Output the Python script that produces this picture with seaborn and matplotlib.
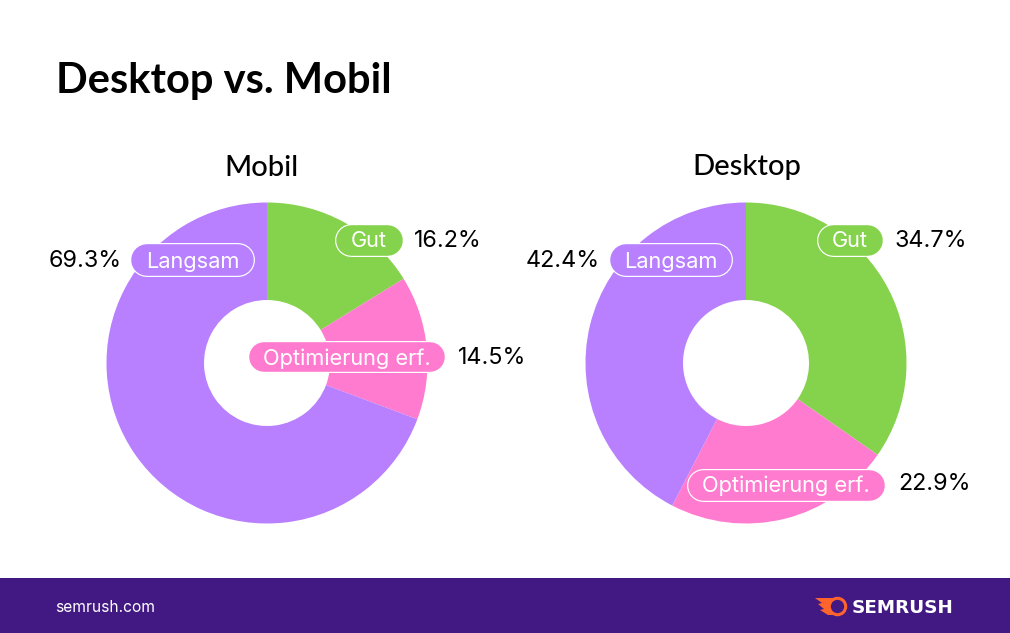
import matplotlib.pyplot as plt
import seaborn as sns
from matplotlib.patches import Circle, Polygon, Rectangle

W, H = 1010, 633

categories = ['Gut', 'Optimierung erf.', 'Langsam']
mobile_values = [16.2, 14.5, 69.3]
desktop_values = [34.7, 22.9, 42.4]
colors = ['#85D24C', '#FF7BCF', '#B87FFF']

# label layout, pixels: pill box (x0, y0, x1, y1), percent text x and y
mobile_labels = [
    ((334, 223, 403, 256), 414, 238.5),
    ((248, 341, 446, 373), 458, 355.5),
    ((130, 243, 255, 277), 48.5, 258.5),
]
desktop_labels = [
    ((816, 223, 883, 256), 894, 238.5),
    ((686, 468, 885, 501), 898, 481.5),
    ((609, 243, 733, 277), 525.5, 258.5),
]

sns.set_theme(style='white', palette=sns.color_palette(colors))
plt.rcParams['font.family'] = ['Inter', 'DejaVu Sans']


def draw_donut(fig, values, cx, cy, r=160.5, hole=63):
    ax = fig.add_axes([(cx - r) / W, 1 - (cy + r) / H, 2 * r / W, 2 * r / H])
    ax.pie(values, colors=sns.color_palette(), startangle=90, counterclock=False, radius=1,
           wedgeprops={'width': 1 - hole / r, 'linewidth': 0})
    ax.set_xlim(-1, 1)
    ax.set_ylim(-1, 1)
    ax.axis('off')


def draw_labels(ax, values, layout):
    for name, val, color, (box, px, py) in zip(categories, values, colors, layout):
        x0, y0, x1, y1 = box
        h = y1 - y0
        ym = (y0 + y1) / 2
        # pill: two thick round-capped lines, 1 px = 0.72 pt
        ax.plot([x0 + h / 2, x1 - h / 2], [ym, ym], color='white', lw=h * 0.72,
                solid_capstyle='round', zorder=3)
        ax.plot([x0 + h / 2, x1 - h / 2], [ym, ym], color=color, lw=(h - 2.4) * 0.72,
                solid_capstyle='round', zorder=3)
        ax.text((x0 + x1) / 2, ym - 0.5, name, color='white', fontsize=15.7,
                ha='center', va='center_baseline', zorder=4)
        ax.text(px, py, f'{val}%', color='black', fontsize=16.8,
                ha='left', va='center_baseline', zorder=4)


fig = plt.figure(figsize=(W / 100, H / 100), dpi=100, facecolor='white')

draw_donut(fig, mobile_values, 267, 363)
draw_donut(fig, desktop_values, 746, 363)

# overlay in pixel coordinates for text and footer
overlay = fig.add_axes([0, 0, 1, 1], facecolor='none')
overlay.set_xlim(0, W)
overlay.set_ylim(H, 0)
overlay.axis('off')

overlay.text(56, 77, 'Desktop vs. Mobil', fontsize=30, fontweight='bold', color='black',
             family=['Lato', 'DejaVu Sans'], ha='left', va='center_baseline')
overlay.text(261, 165, 'Mobil', fontsize=21, color='black', family=['Lato', 'DejaVu Sans'],
             fontweight='medium', ha='center', va='center_baseline')
overlay.text(746.5, 165, 'Desktop', fontsize=21, color='black', family=['Lato', 'DejaVu Sans'],
             fontweight='medium', ha='center', va='center_baseline')

draw_labels(overlay, mobile_values, mobile_labels)
draw_labels(overlay, desktop_values, desktop_labels)

# footer
overlay.add_patch(Rectangle((0, 578), W, 55, fc='#421983', ec='none'))
overlay.text(55, 605.5, 'semrush.com', color='white', fontsize=11.2, ha='left', va='center_baseline')
overlay.text(852, 606, 'SEMRUSH', color='white', fontsize=13.2, fontweight='bold',
             family=['DejaVu Sans'], ha='left', va='center_baseline')

# logo flame
orange = '#FF642D'
overlay.add_patch(Polygon([(815, 598), (840, 598), (832, 606), (835, 615), (828, 615),
                           (820, 610), (824, 609), (818, 604), (822, 603)],
                          fc=orange, ec='none'))
overlay.add_patch(Circle((837.5, 606.5), 8.2, fc='#421983', ec=orange, lw=2.2))

fig.savefig('out.png', dpi=100, facecolor='white')
plt.close(fig)
